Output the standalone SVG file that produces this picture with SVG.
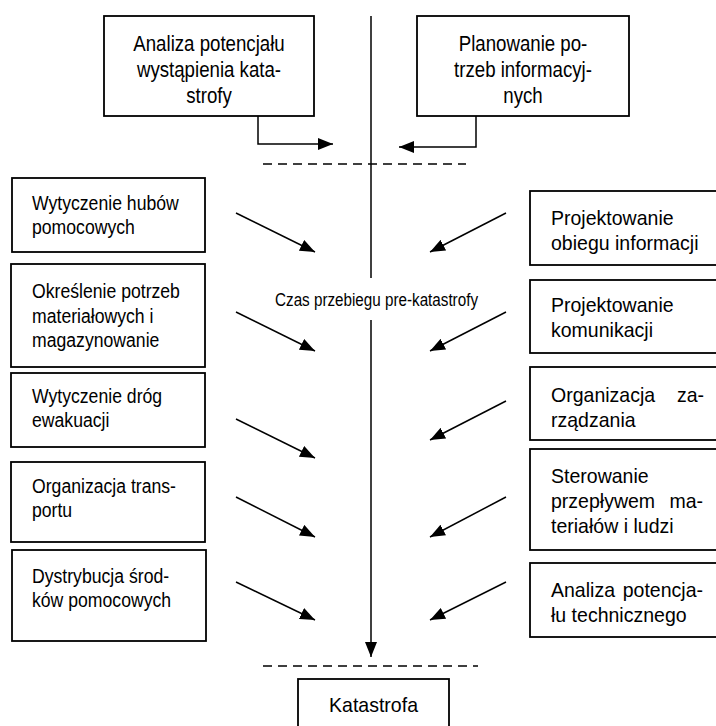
<svg xmlns="http://www.w3.org/2000/svg" width="716" height="726" viewBox="0 0 716 726">
<defs>
<style>
.box{fill:#fff;stroke:#000;stroke-width:1.8}
.t{font-family:"Liberation Sans",Arial,sans-serif;font-size:21px;fill:#000}
.tb{font-family:"Liberation Sans",Arial,sans-serif;font-size:22.5px;fill:#000}
.tc{font-family:"Liberation Sans",Arial,sans-serif;font-size:17.5px;fill:#000}
.m{text-anchor:middle}
.e{text-anchor:end}
.ln{fill:none;stroke:#000;stroke-width:1.5}
.dash{fill:none;stroke:#000;stroke-width:1.5;stroke-dasharray:9 6}
</style>
<marker id="ah" markerWidth="16" markerHeight="12" refX="15" refY="6" orient="auto" markerUnits="userSpaceOnUse">
<path d="M0,0 L15,6 L0,12 z" fill="#000"/>
</marker>
</defs>
<rect width="716" height="726" fill="#fff"/>

<g id="connectors">
<path class="ln" d="M371,16 V278"/>
<path class="ln" d="M371,320 V657" marker-end="url(#ah)"/>
<path class="ln" d="M258,116 V144 H333" marker-end="url(#ah)"/>
<path class="ln" d="M476,116 V147 H399" marker-end="url(#ah)"/>
<path class="dash" d="M263,164 H466"/>
<path class="dash" d="M263,666 H478"/>
<path class="ln" d="M236,213 L315,252" marker-end="url(#ah)"/>
<path class="ln" d="M236,312 L315,351" marker-end="url(#ah)"/>
<path class="ln" d="M236,419 L315,458" marker-end="url(#ah)"/>
<path class="ln" d="M236,497 L315,537" marker-end="url(#ah)"/>
<path class="ln" d="M236,582 L315,620" marker-end="url(#ah)"/>
<path class="ln" d="M506,213 L430,252" marker-end="url(#ah)"/>
<path class="ln" d="M506,312 L430,351" marker-end="url(#ah)"/>
<path class="ln" d="M506,401 L430,440" marker-end="url(#ah)"/>
<path class="ln" d="M506,497 L430,537" marker-end="url(#ah)"/>
<path class="ln" d="M506,582 L430,620" marker-end="url(#ah)"/>
</g>

<g id="label-czas">
<text class="tc m" transform="translate(376.5,306) scale(0.87,1)">Czas przebiegu pre-katastrofy</text>
</g>

<g id="n-analiza-katastrofy">
<rect class="box" x="104" y="16" width="210" height="100"/>
<text class="tb m" transform="translate(209,51) scale(0.83,1)">Analiza potencjału</text>
<text class="tb m" transform="translate(209,77) scale(0.83,1)">wystąpienia kata-</text>
<text class="tb m" transform="translate(209,103) scale(0.83,1)">strofy</text>
</g>

<g id="n-planowanie">
<rect class="box" x="417" y="16" width="212" height="100"/>
<text class="tb m" transform="translate(523,51) scale(0.83,1)">Planowanie po-</text>
<text class="tb m" transform="translate(523,77) scale(0.83,1)">trzeb informacyj-</text>
<text class="tb m" transform="translate(523,103) scale(0.83,1)">nych</text>
</g>

<g id="n-huby">
<rect class="box" x="12" y="178" width="193" height="74"/>
<text class="t" transform="translate(32,210) scale(0.84,1)">Wytyczenie hubów</text>
<text class="t" transform="translate(32,234) scale(0.84,1)">pomocowych</text>
</g>

<g id="n-potrzeby">
<rect class="box" x="11" y="264" width="194" height="103"/>
<text class="t" transform="translate(32,298) scale(0.84,1)">Określenie potrzeb</text>
<text class="t" transform="translate(32,322.5) scale(0.84,1)">materiałowych i</text>
<text class="t" transform="translate(32,347) scale(0.84,1)">magazynowanie</text>
</g>

<g id="n-ewakuacja">
<rect class="box" x="11" y="373" width="194" height="74"/>
<text class="t" transform="translate(32,403) scale(0.84,1)">Wytyczenie dróg</text>
<text class="t" transform="translate(32,427) scale(0.84,1)">ewakuacji</text>
</g>

<g id="n-transport">
<rect class="box" x="11" y="462" width="194" height="80"/>
<text class="t" transform="translate(32,493) scale(0.84,1)">Organizacja trans-</text>
<text class="t" transform="translate(32,517) scale(0.84,1)">portu</text>
</g>

<g id="n-dystrybucja">
<rect class="box" x="12" y="550" width="194" height="91"/>
<text class="t" transform="translate(32,583) scale(0.84,1)">Dystrybucja środ-</text>
<text class="t" transform="translate(32,607) scale(0.84,1)">ków pomocowych</text>
</g>

<g id="n-obieg">
<rect class="box" x="530" y="191" width="200" height="74"/>
<text class="t" transform="translate(551,225) scale(0.93,1)">Projektowanie</text>
<text class="t" transform="translate(551,250) scale(0.93,1)">obiegu informacji</text>
</g>

<g id="n-komunikacja">
<rect class="box" x="530" y="280" width="200" height="73"/>
<text class="t" transform="translate(551,312) scale(0.93,1)">Projektowanie</text>
<text class="t" transform="translate(551,337) scale(0.93,1)">komunikacji</text>
</g>

<g id="n-zarzadzanie">
<rect class="box" x="530" y="367" width="200" height="73"/>
<text class="t" transform="translate(551,402) scale(0.93,1)">Organizacja</text>
<text class="t e" transform="translate(704,402) scale(0.93,1)">za-</text>
<text class="t" transform="translate(551,427) scale(0.93,1)">rządzania</text>
</g>

<g id="n-przeplyw">
<rect class="box" x="530" y="449" width="200" height="101"/>
<text class="t" transform="translate(551,483) scale(0.93,1)">Sterowanie</text>
<text class="t" transform="translate(551,508) scale(0.93,1)">przepływem</text>
<text class="t e" transform="translate(703,508) scale(0.93,1)">ma-</text>
<text class="t" transform="translate(551,533) scale(0.93,1)">teriałów i ludzi</text>
</g>

<g id="n-techniczny">
<rect class="box" x="530" y="563" width="200" height="74"/>
<text class="t" transform="translate(551,597) scale(0.93,1)">Analiza</text>
<text class="t e" transform="translate(703,597) scale(0.93,1)">potencja-</text>
<text class="t" transform="translate(551,622) scale(0.93,1)">łu technicznego</text>
</g>

<g id="n-katastrofa">
<rect class="box" x="298" y="679" width="151" height="60"/>
<text class="t m" transform="translate(373.5,712) scale(0.93,1)">Katastrofa</text>
</g>
</svg>
